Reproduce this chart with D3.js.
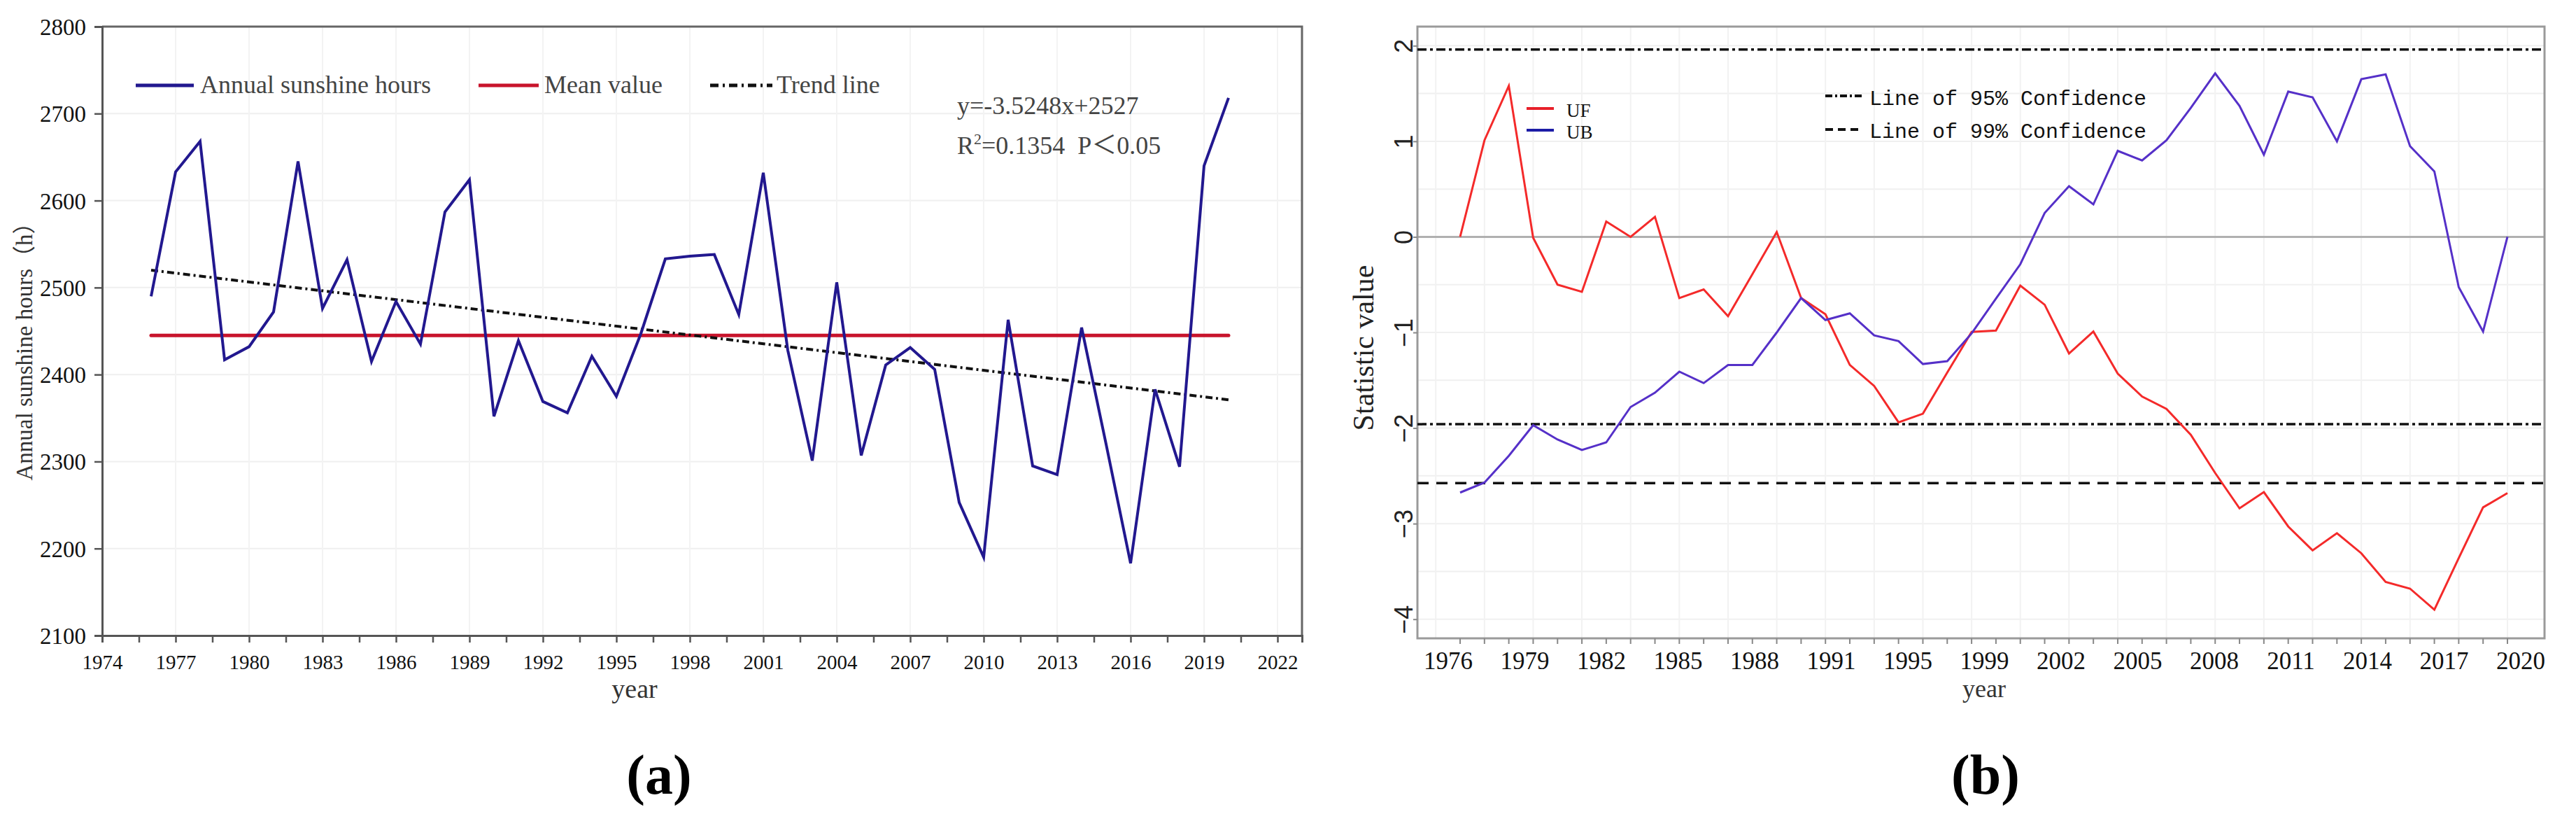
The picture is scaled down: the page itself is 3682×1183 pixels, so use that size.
<!DOCTYPE html>
<html>
<head>
<meta charset="utf-8">
<script src="https://cdn.jsdelivr.net/npm/d3@7"></script>
<style>
  body { margin: 0; background: #fff; }
  svg { display: block; }
</style>
</head>
<body>
<svg id="chart"></svg>
<script>
// ---------- data: panel (a) ----------
const years = d3.range(1976, 2021);
const sunshineHours = [
  2490, 2633, 2668, 2417, 2432, 2472, 2645, 2476, 2532, 2415,
  2484, 2435, 2587, 2624, 2352, 2439, 2369, 2356, 2421, 2375,
  2447, 2533, 2536, 2538, 2469, 2632, 2428, 2301, 2506, 2307,
  2411, 2431, 2406, 2253, 2190, 2463, 2295, 2285, 2454, 2320,
  2183, 2383, 2294, 2640, 2718
];
const meanValue = 2445;
const trendEnds = [
  { year: 1976, value: 2520 },
  { year: 2020, value: 2371 }
];
const yTicksA = [2100, 2200, 2300, 2400, 2500, 2600, 2700, 2800];

// ---------- data: panel (b) ----------
const ufValues = [
  0, 1.01, 1.58, -0.01, -0.5, -0.575, 0.16, 0, 0.21, -0.64,
  -0.55, -0.83, -0.39, 0.05, -0.64, -0.81, -1.34, -1.56, -1.94, -1.85,
  -1.42, -0.995, -0.98, -0.51, -0.71, -1.22, -0.99, -1.43, -1.67, -1.8,
  -2.07, -2.47, -2.84, -2.67, -3.03, -3.28, -3.1, -3.31, -3.61, -3.68,
  -3.9, -3.36, -2.83, -2.68
];
const ubValues = [
  -2.675, -2.57, -2.29, -1.97, -2.12, -2.23, -2.15, -1.78, -1.63, -1.41,
  -1.53, -1.34, -1.34, -1.0, -0.64, -0.87, -0.8, -1.03, -1.09, -1.33,
  -1.3, -1.01, -0.645, -0.286, 0.25, 0.53, 0.34, 0.9, 0.8, 1.01,
  1.35, 1.71, 1.37, 0.86, 1.52, 1.46, 1.0, 1.65, 1.7, 0.95,
  0.685, -0.526, -0.99, 0
];
const mkLabels = ['1976', '1979', '1982', '1985', '1988', '1991', '1995', '1999',
  '2002', '2005', '2008', '2011', '2014', '2017', '2020'];
const yTicksB = [-4, -3, -2, -1, 0, 1, 2];
const conf95 = 1.96;
const conf99 = 2.576;

// ---------- setup ----------
const width = 3682;
const height = 1183;
const serif = '"Liberation Serif", "Times New Roman", "Noto Sans CJK SC", serif';
const sans = '"Liberation Sans", Arial, sans-serif';
const mono = '"Liberation Mono", "DejaVu Sans Mono", monospace';

const svg = d3.select('#chart')
  .attr('width', width)
  .attr('height', height)
  .attr('viewBox', `0 0 ${width} ${height}`);

svg.append('rect').attr('width', width).attr('height', height).attr('fill', '#fff');

// =================== panel (a) ===================
function renderPanelA() {
  const area = { left: 146, right: 1861, top: 38, bottom: 908 };
  const x = d3.scaleLinear().domain([1974, 2023]).range([area.left, area.right]);
  const y = d3.scaleLinear().domain([2100, 2800]).range([area.bottom, area.top]);
  const g = svg.append('g');

  // gridlines
  g.append('g')
    .selectAll('line')
    .data(yTicksA.slice(1, -1))
    .join('line')
    .attr('x1', area.left).attr('x2', area.right)
    .attr('y1', (d) => y(d)).attr('y2', (d) => y(d))
    .attr('stroke', '#efefef').attr('stroke-width', 2);

  g.append('g')
    .selectAll('line')
    .data(d3.range(1977, 2023, 3))
    .join('line')
    .attr('x1', (d) => x(d)).attr('x2', (d) => x(d))
    .attr('y1', area.top).attr('y2', area.bottom)
    .attr('stroke', '#f3f3f3').attr('stroke-width', 2);

  // frame (top / right)
  g.append('path')
    .attr('d', `M${area.left},${area.top}H${area.right}V${area.bottom}`)
    .attr('fill', 'none').attr('stroke', '#666').attr('stroke-width', 3);

  // axes
  const xAxis = d3.axisBottom(x)
    .tickValues(d3.range(1974, 2023, 1.5))
    .tickSize(10)
    .tickFormat((d) => (d % 3 === 0 ? d : ''));
  const gx = g.append('g')
    .attr('transform', `translate(0,${area.bottom})`)
    .call(xAxis);
  gx.select('.domain').attr('stroke', '#555').attr('stroke-width', 3);
  gx.selectAll('.tick line').attr('stroke', '#555').attr('stroke-width', 2.5);
  gx.selectAll('text')
    .attr('y', 48).attr('dy', null)
    .attr('font-family', serif).attr('font-size', 29).attr('fill', '#111');

  const yAxis = d3.axisLeft(y).tickValues(yTicksA).tickSize(11).tickFormat(d3.format('d'));
  const gy = g.append('g')
    .attr('transform', `translate(${area.left},0)`)
    .call(yAxis);
  gy.select('.domain').attr('stroke', '#555').attr('stroke-width', 3);
  gy.selectAll('.tick line').attr('stroke', '#555').attr('stroke-width', 2.5);
  gy.selectAll('text')
    .attr('x', -23).attr('dy', '0.35em')
    .attr('font-family', serif).attr('font-size', 33).attr('fill', '#111');

  // mean line
  g.append('line')
    .attr('x1', x(years[0])).attr('x2', x(years[years.length - 1]))
    .attr('y1', y(meanValue)).attr('y2', y(meanValue))
    .attr('stroke', '#c8142c').attr('stroke-width', 5)
    .attr('stroke-linecap', 'round');

  // trend line
  g.append('path')
    .datum(trendEnds)
    .attr('d', d3.line().x((d) => x(d.year)).y((d) => y(d.value)))
    .attr('fill', 'none').attr('stroke', '#111').attr('stroke-width', 4)
    .attr('stroke-dasharray', '10,5,3,5');

  // sunshine series
  g.append('path')
    .datum(sunshineHours)
    .attr('d', d3.line().x((d, i) => x(years[i])).y((d) => y(d)))
    .attr('fill', 'none').attr('stroke', '#22188f').attr('stroke-width', 4)
    .attr('stroke-linejoin', 'miter');

  // legend
  const legend = [
    { label: 'Annual sunshine hours', x1: 194, x2: 277, tx: 286, color: '#22188f', dash: null, w: 5 },
    { label: 'Mean value', x1: 684, x2: 770, tx: 778, color: '#c8142c', dash: null, w: 5 },
    { label: 'Trend line', x1: 1015, x2: 1104, tx: 1110, color: '#111', dash: '12,6,3,6', w: 5 }
  ];
  const lg = g.append('g')
    .selectAll('g')
    .data(legend)
    .join('g');
  lg.append('line')
    .attr('x1', (d) => d.x1).attr('x2', (d) => d.x2)
    .attr('y1', 122).attr('y2', 122)
    .attr('stroke', (d) => d.color).attr('stroke-width', (d) => d.w)
    .attr('stroke-dasharray', (d) => d.dash);
  lg.append('text')
    .attr('x', (d) => d.tx).attr('y', 133)
    .attr('font-family', serif).attr('font-size', 36).attr('fill', '#444')
    .text((d) => d.label);

  // regression annotation
  g.append('text')
    .attr('x', 1368).attr('y', 163)
    .attr('font-family', serif).attr('font-size', 36).attr('fill', '#444')
    .text('y=-3.5248x+2527');
  const r2 = g.append('text')
    .attr('x', 1368).attr('y', 220)
    .attr('font-family', serif).attr('font-size', 36).attr('fill', '#444');
  r2.append('tspan').text('R');
  r2.append('tspan').attr('font-size', 22).attr('dy', -14).text('2');
  r2.append('tspan').attr('dy', 14).text('=0.1354\u00a0\u00a0P\uff1c0.05');

  // axis titles
  g.append('text')
    .attr('transform', 'translate(46,494) rotate(-90)')
    .attr('text-anchor', 'middle')
    .attr('font-family', serif).attr('font-size', 33).attr('fill', '#333')
    .text('Annual sunshine hours\uff08h\uff09');
  g.append('text')
    .attr('x', 907).attr('y', 997)
    .attr('text-anchor', 'middle')
    .attr('font-family', serif).attr('font-size', 38).attr('fill', '#333')
    .text('year');

  g.append('text')
    .attr('x', 942).attr('y', 1134)
    .attr('text-anchor', 'middle')
    .attr('font-family', serif).attr('font-size', 80).attr('font-weight', 'bold')
    .attr('fill', '#000')
    .text('(a)');
}

// =================== panel (b) ===================
function renderPanelB() {
  const area = { left: 2026, right: 3637, top: 38, bottom: 912 };
  const x = d3.scaleLinear().domain([0, ufValues.length - 1]).range([2087, 3584]);
  const xLabel = d3.scalePoint().domain(mkLabels).range([2070, 3603]);
  const y = d3.scaleLinear().domain([-4.2, 2.2]).range([area.bottom, area.top]);
  const g = svg.append('g');

  // gridlines
  g.append('g')
    .selectAll('line')
    .data(d3.range(-4, 2.01, 0.5).filter((d) => d !== 0))
    .join('line')
    .attr('x1', area.left).attr('x2', area.right)
    .attr('y1', (d) => y(d)).attr('y2', (d) => y(d))
    .attr('stroke', '#f0f0f0').attr('stroke-width', 2);

  g.append('g')
    .selectAll('line')
    .data(d3.range(-1, ufValues.length, 2))
    .join('line')
    .attr('x1', (d) => x(d)).attr('x2', (d) => x(d))
    .attr('y1', area.top).attr('y2', area.bottom)
    .attr('stroke', '#f2f2f2').attr('stroke-width', 2);

  // zero line
  g.append('line')
    .attr('x1', area.left).attr('x2', area.right)
    .attr('y1', y(0)).attr('y2', y(0))
    .attr('stroke', '#b0b0b0').attr('stroke-width', 3);

  // frame
  g.append('rect')
    .attr('x', area.left).attr('y', area.top)
    .attr('width', area.right - area.left).attr('height', area.bottom - area.top)
    .attr('fill', 'none').attr('stroke', '#9a9a9a').attr('stroke-width', 3);

  // confidence lines
  const confLines = [
    { v: conf95, dash: '13,5,4,5' },
    { v: -conf95, dash: '13,5,4,5' },
    { v: -conf99, dash: '16,11' }
  ];
  g.append('g')
    .selectAll('line')
    .data(confLines)
    .join('line')
    .attr('x1', area.left).attr('x2', area.right)
    .attr('y1', (d) => y(d.v)).attr('y2', (d) => y(d.v))
    .attr('stroke', '#111').attr('stroke-width', 3.5)
    .attr('stroke-dasharray', (d) => d.dash);

  // x axis ticks at each point
  const gx = g.append('g').attr('transform', `translate(0,${area.bottom})`);
  gx.selectAll('line')
    .data(d3.range(ufValues.length))
    .join('line')
    .attr('x1', (d) => x(d)).attr('x2', (d) => x(d))
    .attr('y1', 0).attr('y2', 8)
    .attr('stroke', '#888').attr('stroke-width', 2);
  gx.selectAll('text')
    .data(mkLabels)
    .join('text')
    .attr('x', (d) => xLabel(d)).attr('y', 44)
    .attr('text-anchor', 'middle')
    .attr('font-family', serif).attr('font-size', 35).attr('fill', '#111')
    .text((d) => d);

  // y axis
  const yAxis = d3.axisLeft(y).tickValues(yTicksB).tickSize(6).tickFormat(d3.format('d'));
  const gy = g.append('g')
    .attr('transform', `translate(${area.left},0)`)
    .call(yAxis);
  gy.select('.domain').remove();
  gy.selectAll('.tick line').attr('stroke', '#888').attr('stroke-width', 2);
  gy.selectAll('text')
    .attr('x', 0).attr('y', -7).attr('dy', null)
    .attr('transform', 'rotate(-90)')
    .attr('text-anchor', 'middle')
    .attr('font-family', sans).attr('font-size', 36).attr('fill', '#222');

  // series
  const line = d3.line().x((d, i) => x(i)).y((d) => y(d));
  g.append('path')
    .datum(ufValues)
    .attr('d', line)
    .attr('fill', 'none').attr('stroke', '#f42a2a').attr('stroke-width', 3);
  g.append('path')
    .datum(ubValues)
    .attr('d', line)
    .attr('fill', 'none').attr('stroke', '#5530c8').attr('stroke-width', 3);

  // legend UF/UB
  const seriesLegend = [
    { label: 'UF', color: '#e8202a', ly: 155, ty: 167 },
    { label: 'UB', color: '#1c1ca6', ly: 186, ty: 198 }
  ];
  const sl = g.append('g').selectAll('g').data(seriesLegend).join('g');
  sl.append('line')
    .attr('x1', 2182).attr('x2', 2221)
    .attr('y1', (d) => d.ly).attr('y2', (d) => d.ly)
    .attr('stroke', (d) => d.color).attr('stroke-width', 4);
  sl.append('text')
    .attr('x', 2239).attr('y', (d) => d.ty)
    .attr('font-family', serif).attr('font-size', 27).attr('fill', '#111')
    .text((d) => d.label);

  // legend confidence
  const confLegend = [
    { label: 'Line of 95% Confidence', dash: '10,4,3,4', ly: 137, ty: 150 },
    { label: 'Line of 99% Confidence', dash: '11,7', ly: 185, ty: 197 }
  ];
  const cl = g.append('g').selectAll('g').data(confLegend).join('g');
  cl.append('line')
    .attr('x1', 2609).attr('x2', 2661)
    .attr('y1', (d) => d.ly).attr('y2', (d) => d.ly)
    .attr('stroke', '#111').attr('stroke-width', 4)
    .attr('stroke-dasharray', (d) => d.dash);
  cl.append('text')
    .attr('x', 2672).attr('y', (d) => d.ty)
    .attr('font-family', mono).attr('font-size', 30).attr('fill', '#111')
    .text((d) => d.label);

  // titles
  g.append('text')
    .attr('transform', 'translate(1963,497) rotate(-90)')
    .attr('text-anchor', 'middle')
    .attr('font-family', serif).attr('font-size', 42).attr('fill', '#222')
    .text('Statistic value');
  g.append('text')
    .attr('x', 2836).attr('y', 996)
    .attr('text-anchor', 'middle')
    .attr('font-family', serif).attr('font-size', 36).attr('fill', '#333')
    .text('year');

  g.append('text')
    .attr('x', 2838).attr('y', 1134)
    .attr('text-anchor', 'middle')
    .attr('font-family', serif).attr('font-size', 80).attr('font-weight', 'bold')
    .attr('fill', '#000')
    .text('(b)');
}

renderPanelA();
renderPanelB();
</script>
</body>
</html>
